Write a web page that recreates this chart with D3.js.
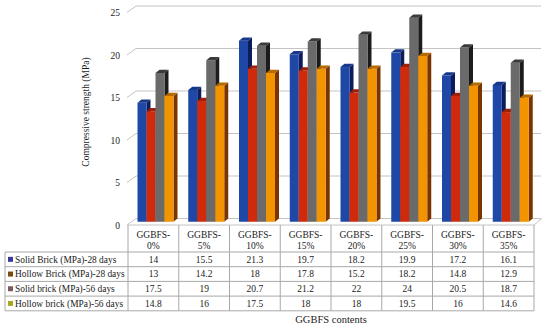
<!DOCTYPE html>
<html><head><meta charset="utf-8">
<script src="https://cdn.jsdelivr.net/npm/d3@7"></script>
<style>body{margin:0;background:#fff}svg{display:block}text{font-family:"Liberation Serif","Times New Roman",serif;fill:#1a1a1a}</style>
</head><body><svg id="c" width="550" height="328"></svg>
<script>
const categories = ["GGBFS-0%","GGBFS-5%","GGBFS-10%","GGBFS-15%","GGBFS-20%","GGBFS-25%","GGBFS-30%","GGBFS-35%"];
const seriesNames = ["Solid Brick (MPa)-28 days","Hollow Brick (MPa)-28 days","Solid brick (MPa)-56 days","Hollow brick (MPa)-56 days"];
const solid28 = [14,15.5,21.3,19.7,18.2,19.9,17.2,16.1];
const hollow28 = [13,14.2,18,17.8,15.2,18.2,14.8,12.9];
const solid56 = [17.5,19,20.7,21.2,22,24,20.5,18.7];
const hollow56 = [14.8,16,17.5,18,18,19.5,16,14.6];
const yTicks = [0,5,10,15,20,25];
const values = [solid28, hollow28, solid56, hollow56];

const frontCol = ["#1f48a6","#d02a0c","#6a6a6a","#f29400"];
const sideCol = ["#0c1c5c","#781000","#1c1c1c","#7a3400"];
const topCol = ["#18388a","#a01e06","#3a3a3a","#b56a00"];
const legendCol = ["#3a3a9e","#7b4a12","#7d5862","#a9a722"];

const svg = d3.select("#c");
const x = d3.scaleBand().domain(categories).range([128,534]).padding(0);
const y = d3.scaleLinear().domain([0,25]).range([225,12.5]);
const DX = 8, DY = -6.5; // full depth offset
const inner = d3.scaleBand().domain(seriesNames).range([0,36]).padding(0);

// gridlines (back wall + left wall diagonal)
const g = svg.append("g");
yTicks.forEach(t => {
  g.append("line").attr("x1",128+DX).attr("x2",541).attr("y1",y(t)+DY).attr("y2",y(t)+DY)
    .attr("stroke","#c4c4c4").attr("stroke-width",1);
  g.append("line").attr("x1",127).attr("x2",128+DX).attr("y1",y(t)).attr("y2",y(t)+DY)
    .attr("stroke","#c4c4c4").attr("stroke-width",1);
});
// floor front edge & right diagonal
g.append("line").attr("x1",128).attr("x2",534).attr("y1",y(0)).attr("y2",y(0)).attr("stroke","#c4c4c4");
g.append("line").attr("x1",534).attr("x2",534+DX).attr("y1",y(0)).attr("y2",y(0)+DY).attr("stroke","#c4c4c4");

// y tick labels
svg.append("g").selectAll("text").data(yTicks).join("text")
  .attr("x",120).attr("y",d=>y(d)+3.5).attr("text-anchor","end").attr("font-size",9.5).text(d=>d);

// y title
svg.append("text").attr("transform","translate(89,112) rotate(-90)").attr("text-anchor","middle")
  .attr("font-size",9.5).text("Compressive strength (MPa)");

// bars
const bw = inner.bandwidth();
const hdx = DX/2, hdy = DY/2;
const bars = svg.append("g");
categories.forEach((c,ci) => {
  values.forEach((arr,si) => {
    const x0 = x(c) + 9.5 + inner(seriesNames[si]);
    const x1 = x0 + bw;
    const yb = y(0) + hdy, yt = y(arr[ci]) + hdy;
    // side
    bars.append("path").attr("d",`M${x1},${yt}L${x1+hdx},${yt+hdy}L${x1+hdx},${yb+hdy}L${x1},${yb}Z`).attr("fill",sideCol[si]);
    // front
    bars.append("rect").attr("x",x0).attr("y",yt).attr("width",bw).attr("height",yb-yt).attr("fill",frontCol[si]);
    // top
    bars.append("path").attr("d",`M${x0},${yt}L${x1},${yt}L${x1+hdx},${yt+hdy}L${x0+hdx},${yt+hdy}Z`).attr("fill",topCol[si]);
  });
});

// data table
const rowTop = 252, rowH = 14.7;
const tb = svg.append("g");
const lc = "#a8a8a8";
const bounds = x.domain().map(d=>x(d)).concat([534]);
bounds.forEach(bx => tb.append("line").attr("x1",bx).attr("x2",bx).attr("y1",225).attr("y2",rowTop+4*rowH).attr("stroke",lc));
tb.append("line").attr("x1",5).attr("x2",5).attr("y1",rowTop).attr("y2",rowTop+4*rowH).attr("stroke",lc);
for (let r=0;r<=4;r++) tb.append("line").attr("x1",5).attr("x2",534).attr("y1",rowTop+r*rowH).attr("y2",rowTop+r*rowH).attr("stroke",lc);
// headers
categories.forEach(c => {
  const cx = x(c) + x.bandwidth()/2;
  const parts = c.split("-");
  tb.append("text").attr("x",cx).attr("y",238).attr("text-anchor","middle").attr("font-size",9.5).text(parts[0]+"-");
  tb.append("text").attr("x",cx).attr("y",248.5).attr("text-anchor","middle").attr("font-size",9.5).text(parts[1]);
});
seriesNames.forEach((s,si) => {
  const ry = rowTop + si*rowH;
  tb.append("rect").attr("x",8).attr("y",ry+rowH/2-2.5).attr("width",5).attr("height",5).attr("fill",legendCol[si]);
  tb.append("text").attr("x",15).attr("y",ry+rowH/2+3.3).attr("font-size",9.4).text(s);
  categories.forEach((c,ci) => {
    tb.append("text").attr("x",x(c)+x.bandwidth()/2).attr("y",ry+rowH/2+3.3).attr("text-anchor","middle")
      .attr("font-size",9.5).text(values[si][ci]);
  });
});
// x title
svg.append("text").attr("x",331).attr("y",323).attr("text-anchor","middle").attr("font-size",10.5).text("GGBFS contents");
</script></body></html>
